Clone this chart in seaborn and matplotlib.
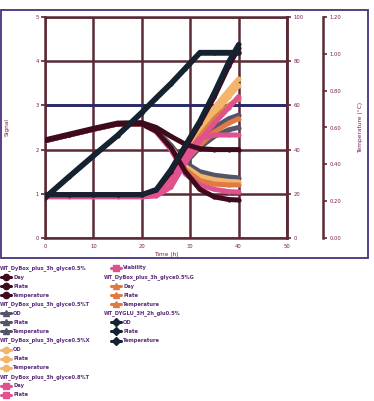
import matplotlib
matplotlib.use("Agg")
import matplotlib.pyplot as plt
import seaborn as sns
import pandas as pd
from matplotlib.lines import Line2D
from matplotlib.patches import Rectangle

# ---------------- data ----------------
hours = [0, 5, 10, 15, 20, 23, 26, 29, 32, 35, 38, 40]

group_names = ["WT_DyBox_plus_3h_glyce0.5%", "WT_DyBox_plus_3h_glyce0.5%T",
               "WT_DyBox_plus_3h_glyce0.5%X", "WT_DyBox_plus_3h_glyce0.8%T",
               "WT_DyBox_plus_3h_glyce0.5%G", "WT_DYGLU_3H_2h_glu0.5%"]
group_colors = ["#3d0a1e", "#55556a", "#f2b56b", "#e0528f", "#e07a45", "#14232f"]
group_markers = ["o", "^", "o", "s", "^", "D"]
group_measures = [["Day", "Plate", "Temperature"],
                  ["OD", "Plate", "Temperature"],
                  ["OD", "Plate", "Temperature"],
                  ["Day", "Plate", "Viability"],
                  ["Day", "Plate", "Temperature"],
                  ["OD", "Plate", "Temperature"]]

g1_day = [2.22, 2.35, 2.48, 2.60, 2.61, 2.50, 2.30, 2.12, 2.02, 2.00, 2.00, 2.00]
g1_plate = [0.98, 0.98, 0.98, 0.98, 0.98, 1.08, 1.50, 2.05, 2.60, 3.20, 3.90, 4.30]
g1_temp = [2.20, 2.33, 2.46, 2.58, 2.58, 2.42, 2.05, 1.50, 1.10, 0.93, 0.87, 0.86]
g2_od = [0.98, 0.98, 0.98, 0.98, 0.98, 1.00, 1.30, 1.80, 2.20, 2.50, 2.70, 2.78]
g2_plate = [2.20, 2.33, 2.46, 2.58, 2.58, 2.45, 2.10, 1.70, 1.50, 1.42, 1.38, 1.36]
g2_temp = [0.98, 0.98, 0.98, 0.98, 0.98, 1.00, 1.25, 1.70, 2.05, 2.30, 2.45, 2.50]
g3_od = [0.98, 0.98, 0.98, 0.98, 0.98, 1.00, 1.35, 1.95, 2.50, 2.95, 3.35, 3.60]
g3_plate = [2.20, 2.33, 2.46, 2.58, 2.58, 2.44, 2.05, 1.62, 1.40, 1.32, 1.28, 1.27]
g3_temp = [0.98, 0.98, 0.98, 0.98, 0.98, 1.00, 1.30, 1.85, 2.35, 2.80, 3.20, 3.45]
g4_day = [0.93, 0.93, 0.93, 0.93, 0.93, 0.95, 1.15, 1.70, 2.20, 2.60, 2.95, 3.20]
g4_plate = [0.98, 0.98, 0.98, 0.98, 0.98, 1.00, 1.35, 1.90, 2.25, 2.33, 2.33, 2.33]
g4_viab = [2.20, 2.33, 2.46, 2.58, 2.58, 2.40, 2.00, 1.45, 1.20, 1.10, 1.05, 1.04]
g5_day = [0.98, 0.98, 0.98, 0.98, 0.98, 1.00, 1.30, 1.85, 2.30, 2.70, 3.00, 3.15]
g5_plate = [2.20, 2.33, 2.46, 2.58, 2.58, 2.43, 2.02, 1.55, 1.30, 1.22, 1.20, 1.20]
g5_temp = [0.98, 0.98, 0.98, 0.98, 0.98, 1.00, 1.28, 1.75, 2.10, 2.40, 2.60, 2.70]
g6_od = [0.92, 1.40, 1.87, 2.33, 2.85, 3.18, 3.50, 3.85, 4.20, 4.20, 4.20, 4.20]
g6_plate = [0.98, 0.98, 0.98, 0.98, 0.98, 1.10, 1.55, 2.10, 2.65, 3.30, 4.00, 4.38]
g6_temp = [0.90, 1.38, 1.85, 2.31, 2.83, 3.16, 3.48, 3.83, 4.18, 4.18, 4.18, 4.18]

series_values = [[g1_day, g1_plate, g1_temp], [g2_od, g2_plate, g2_temp],
                 [g3_od, g3_plate, g3_temp], [g4_day, g4_plate, g4_viab],
                 [g5_day, g5_plate, g5_temp], [g6_od, g6_plate, g6_temp]]

x_ticks = [0, 10, 20, 30, 40, 50]
y_ticks = [0, 1, 2, 3, 4, 5]
y2_ticks = [0, 20, 40, 60, 80, 100]
y3_ticks = [0.0, 0.2, 0.4, 0.6, 0.8, 1.0, 1.2]

# ---------------- build frame ----------------
rows = []
palette = {}
draw_order = []
for gi in [1, 2, 4, 3, 0, 5]:
    for mi, meas in enumerate(group_measures[gi]):
        key = f"{group_names[gi]}|{meas}"
        palette[key] = group_colors[gi]
        draw_order.append(key)
        for h, v in zip(hours, series_values[gi][mi]):
            rows.append({"hour": h, "value": v, "series": key})
df = pd.DataFrame(rows)

# ---------------- figure ----------------
sns.set_theme(style="white")
plt.rcParams["font.family"] = ["DejaVu Sans"]
W, H = 374, 401
fig = plt.figure(figsize=(W / 100, H / 100), dpi=100)
ax = fig.add_axes([45 / W, 1 - 238 / H, (287 - 45) / W, (238 - 17) / H])

grid_c = "#5b2a35"
txt_c = "#7a1f55"

ax.set_xlim(0, 50)
ax.set_ylim(0, 5)
ax.set_xticks(x_ticks)
ax.set_yticks(y_ticks)
ax.grid(True, color=grid_c, lw=1.8, zorder=0)
ax.set_axisbelow(True)
ax.axhline(3, color="#262a6e", lw=2.0, zorder=1)

sns.lineplot(data=df, x="hour", y="value", hue="series", hue_order=draw_order,
             palette=palette, legend=False, ax=ax, lw=3.6, marker="o",
             markersize=3, markeredgewidth=0, sort=False, zorder=3)

for s in ax.spines.values():
    s.set_color(grid_c)
    s.set_linewidth(1.8)
ax.tick_params(axis="both", labelsize=3.8, colors=grid_c, labelcolor=txt_c,
               length=3, width=1.2, pad=1.5, direction="out")
ax.set_xlabel("Time (h)", fontsize=4.2, color=txt_c, labelpad=2)
ax.set_ylabel("Signal", fontsize=4.2, color=txt_c, labelpad=8)
ax.yaxis.set_label_coords(-0.145, 0.5)

ax2 = ax.twinx()
ax2.set_ylim(0, 100)
ax2.set_yticks(y2_ticks)
ax2.tick_params(axis="y", labelsize=3.8, colors=grid_c, labelcolor=txt_c,
                length=3, width=1.2, pad=1.5)
ax2.grid(False)
for s in ax2.spines.values():
    s.set_visible(False)
ax2.spines["right"].set_visible(True)
ax2.spines["right"].set_color(grid_c)
ax2.spines["right"].set_linewidth(1.8)

ax3 = ax.twinx()
ax3.spines["right"].set_position(("axes", (323 - 45) / (287 - 45)))
ax3.set_ylim(0, 1.2)
ax3.set_yticks(y3_ticks)
ax3.set_yticklabels([f"{t:.2f}" for t in y3_ticks])
ax3.tick_params(axis="y", labelsize=3.8, colors=grid_c, labelcolor=txt_c,
                length=3, width=1.2, pad=1.5)
ax3.grid(False)
for s in ax3.spines.values():
    s.set_visible(False)
ax3.spines["right"].set_visible(True)
ax3.spines["right"].set_color(grid_c)
ax3.spines["right"].set_linewidth(1.8)
ax3.set_ylabel("Temperature (°C)", fontsize=4.2, color=txt_c, labelpad=12)

# outer frame
fig.add_artist(Rectangle((1 / W, 1 - 258 / H), 367 / W, 248 / H,
                         transform=fig.transFigure, fill=False,
                         ec="#46307a", lw=1.3))

# ---------------- legend (manual) ----------------
entries = []
for gi in range(6):
    entries.append(("header", group_names[gi], None, None))
    for meas in group_measures[gi]:
        entries.append(("item", meas, group_colors[gi], group_markers[gi]))

col1 = entries[:15]
col2 = entries[15:]
row0, step = 268, 9.07

def draw_col(items, hx, lx0, lx1, tx):
    for i, (kind, label, color, mk) in enumerate(items):
        yp = row0 + i * step
        yf = 1 - yp / H
        if kind == "header":
            fig.text(hx / W, yf, label, fontsize=3.7, color="#5a2a7a",
                     va="center", ha="left", fontweight="bold")
        else:
            fig.add_artist(Line2D([lx0 / W, lx1 / W], [yf, yf],
                                  transform=fig.transFigure, color=color, lw=2.2))
            fig.add_artist(Line2D([(lx0 + lx1) / 2 / W], [yf],
                                  transform=fig.transFigure, color=color,
                                  marker=mk, markersize=4.5, lw=0))
            fig.text(tx / W, yf, label, fontsize=3.7, color="#5a2a7a",
                     va="center", ha="left", fontweight="bold")

draw_col(col1, 0, 1, 11, 13)
draw_col(col2, 104, 111, 121, 123)

fig.savefig("out.png", dpi=100)
